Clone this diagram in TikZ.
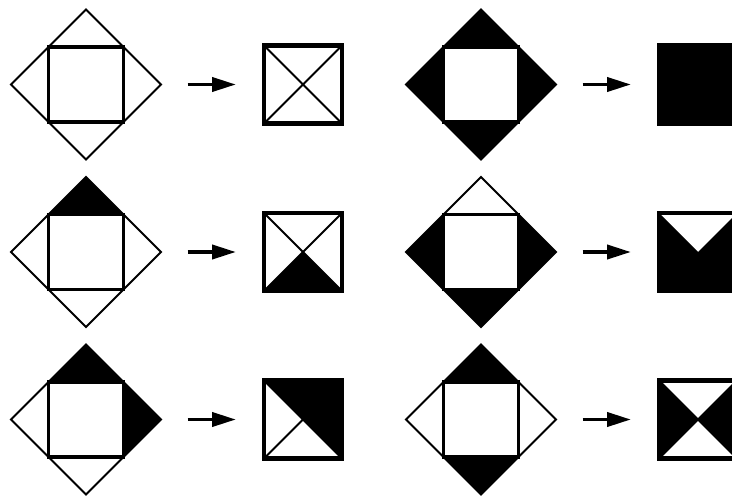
\documentclass[tikz,border=0pt]{standalone}
\usepackage{tikz}
\usetikzlibrary{shapes.geometric, arrows.meta, positioning}
\tikzstyle{outerdiam} = [diamond, minimum width=3cm, minimum height=3cm, inner sep=0pt, outer sep=0pt,
  draw=black, line width=1.1pt]
\tikzstyle{innersq} = [rectangle, minimum size=1.5cm, inner sep=0pt, outer sep=0pt,
  draw=black, fill=white, line width=2.1pt]
\tikzstyle{resultsq} = [rectangle, minimum size=1.56cm, inner sep=0pt, outer sep=0pt,
  draw=black, line width=2.3pt]
\tikzstyle{ink} = [fill=black]
\tikzstyle{cross} = [line width=1.1pt]
\tikzstyle{arrow} = [line width=2.2pt, -{Triangle[length=0.48cm, width=0.28cm]},
  shorten <=0.53cm, shorten >=0.56cm]

\begin{document}
\begin{tikzpicture}[node distance=0.35cm]
  \useasboundingbox (0,0) rectangle (14.64,-9.9);

  \node (d1) [outerdiam] at (1.72,-1.69) {};
  \node (q1) [innersq] at (d1.center) {};
  \node (r1) [resultsq, right=2.06cm of d1] {};
  \draw[arrow] (d1) -- (r1);
  \draw[cross] (r1.north west) -- (r1.south east) (r1.north east) -- (r1.south west);

  \node (d2) [outerdiam, fill=black, right=1.28cm of r1] {};
  \node (q2) [innersq] at (d2.center) {};
  \node (r2) [resultsq, fill=black, right=2.06cm of d2] {};
  \draw[arrow] (d2) -- (r2);

  \node (d3) [outerdiam, below=of d1] {};
  \node (q3) [innersq] at (d3.center) {};
  \node (r3) [resultsq, right=2.06cm of d3] {};
  \draw[arrow] (d3) -- (r3);
  \fill[ink] (d3.north) -- (q3.north east) -- (q3.north west) -- cycle;
  \fill[ink] (r3.south west) -- (r3.center) -- (r3.south east) -- cycle;
  \draw[cross] (r3.north west) -- (r3.south east) (r3.north east) -- (r3.south west);

  \node (d4) [outerdiam, below=of d2] {};
  \node (q4) [innersq] at (d4.center) {};
  \node (r4) [resultsq, right=2.06cm of d4] {};
  \draw[arrow] (d4) -- (r4);
  \fill[ink] (d4.west) -- (q4.north west) -- (q4.south west) -- cycle
             (d4.east) -- (q4.north east) -- (q4.south east) -- cycle
             (d4.south) -- (q4.south east) -- (q4.south west) -- cycle;
  \fill[ink] (r4.north west) -- (r4.center) -- (r4.north east) -- (r4.south east) -- (r4.south west) -- cycle;

  \node (d5) [outerdiam, below=of d3] {};
  \node (q5) [innersq] at (d5.center) {};
  \node (r5) [resultsq, right=2.06cm of d5] {};
  \draw[arrow] (d5) -- (r5);
  \fill[ink] (d5.north) -- (q5.north east) -- (q5.north west) -- cycle
             (d5.east) -- (q5.north east) -- (q5.south east) -- cycle;
  \fill[ink] (r5.north west) -- (r5.north east) -- (r5.south east) -- cycle;
  \draw[cross] (r5.north west) -- (r5.south east) (r5.center) -- (r5.south west);

  \node (d6) [outerdiam, below=of d4] {};
  \node (q6) [innersq] at (d6.center) {};
  \node (r6) [resultsq, right=2.06cm of d6] {};
  \draw[arrow] (d6) -- (r6);
  \fill[ink] (d6.north) -- (q6.north east) -- (q6.north west) -- cycle
             (d6.south) -- (q6.south east) -- (q6.south west) -- cycle;
  \fill[ink] (r6.north west) -- (r6.center) -- (r6.south west) -- cycle
             (r6.north east) -- (r6.center) -- (r6.south east) -- cycle;
  \draw[cross] (r6.north west) -- (r6.south east) (r6.north east) -- (r6.south west);
\end{tikzpicture}
\end{document}
